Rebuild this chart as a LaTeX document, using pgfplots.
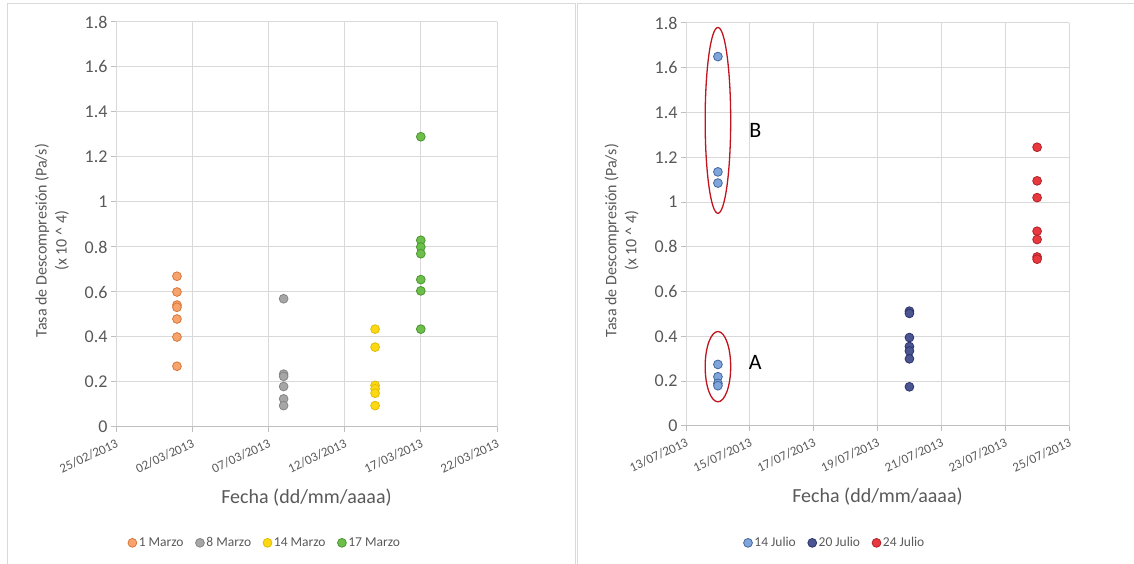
\documentclass[border=0pt]{standalone}
\usepackage{pgfplots}
\pgfplotsset{compat=1.18}
\usepackage{fontspec}
\setmainfont{Carlito}

\definecolor{txt}{HTML}{595959}
\definecolor{gridc}{HTML}{D9D9D9}
\definecolor{axisc}{HTML}{BFBFBF}
\definecolor{cOra}{HTML}{F4A46C}
\definecolor{cOraE}{HTML}{D9773A}
\definecolor{cGry}{HTML}{A6A6A6}
\definecolor{cGryE}{HTML}{858585}
\definecolor{cYel}{HTML}{FFD814}
\definecolor{cYelE}{HTML}{E0BC00}
\definecolor{cGrn}{HTML}{6DBE4B}
\definecolor{cGrnE}{HTML}{4A9630}
\definecolor{cLbl}{HTML}{7FA5DA}
\definecolor{cLblE}{HTML}{41679F}
\definecolor{cDbl}{HTML}{4B5592}
\definecolor{cDblE}{HTML}{2C346A}
\definecolor{cRed}{HTML}{E83A3E}
\definecolor{cRedE}{HTML}{B0212A}
\definecolor{ellc}{HTML}{C0141E}

\pgfplotsset{
  excel/.style={
    scale only axis,
    ymin=0, ymax=1.8, ytick={0,0.2,...,1.8},
    grid=major,
    major grid style={gridc, line width=1pt},
    axis line style={draw=none},
    tick align=outside,
    major tick length=5pt,
    tick style={axisc, line width=1pt},
    xtick pos=bottom, ytick pos=left,
    /pgf/number format/assume math mode=true,
    yticklabel style={font=\fontsize{18}{20}\selectfont, text=txt},
    xticklabel style={font=\fontsize{13}{15}\selectfont, text=txt, rotate=25, anchor=north east, yshift=-2pt},
    xlabel style={font=\fontsize{20}{24}\selectfont, text=txt, at={(axis description cs:0.5,-0.175)}, anchor=center},
    ylabel style={font=\fontsize{16}{20}\selectfont, text=txt, at={(axis description cs:-0.168,0.46)}, anchor=center, align=center},
    xlabel={Fecha (dd/mm/aaaa)},
    ylabel={Tasa de Descompresión (Pa/s)\\(x 10 \string^ 4)},
    legend columns=-1,
    legend style={draw=none, fill=none, font=\fontsize{13.5}{15}\selectfont, text=txt,
      /tikz/every even column/.append style={column sep=10pt}},
    legend image code/.code={\draw[#1] plot coordinates {(0pt,0pt)};},
  },
  dots/.style={only marks, mark=*, mark size=4.4pt, line width=0.8pt},
}

\begin{document}
\begin{tikzpicture}
\clip (0pt,0pt) rectangle (1134pt,564pt);
\draw[gridc, line width=1pt] (7pt,-5pt) rectangle (575pt,560pt);
\draw[gridc, line width=1pt] (577pt,-5pt) rectangle (1140pt,560pt);

\begin{axis}[excel,
  at={(116pt,137pt)}, anchor=south west,
  width=381pt, height=405pt,
  xmin=0, xmax=25, xtick={0,5,10,15,20,25},
  xticklabels={25/02/2013,02/03/2013,07/03/2013,12/03/2013,17/03/2013,22/03/2013},
  legend style={at={(axis description cs:0.391,-0.286)}, anchor=center},
]
\addplot[dots, draw=cOraE, fill=cOra] coordinates {
  (4,0.67) (4,0.60) (4,0.542) (4,0.532) (4,0.48) (4,0.40) (4,0.27)};
\addlegendentry{1 Marzo}
\addplot[dots, draw=cGryE, fill=cGry] coordinates {
  (11,0.57) (11,0.235) (11,0.225) (11,0.18) (11,0.125) (11,0.095)};
\addlegendentry{8 Marzo}
\addplot[dots, draw=cYelE, fill=cYel] coordinates {
  (17,0.435) (17,0.355) (17,0.185) (17,0.17) (17,0.15) (17,0.095)};
\addlegendentry{14 Marzo}
\addplot[dots, draw=cGrnE, fill=cGrn] coordinates {
  (20,1.29) (20,0.83) (20,0.80) (20,0.77) (20,0.655) (20,0.605) (20,0.435)};
\addlegendentry{17 Marzo}
\draw[axisc, line width=1pt] (rel axis cs:0,0) -- (rel axis cs:1,0);
\end{axis}

\begin{axis}[excel,
  at={(686pt,138pt)}, anchor=south west,
  width=383pt, height=403pt,
  xmin=0, xmax=12, xtick={0,2,4,6,8,10,12},
  xticklabels={13/07/2013,15/07/2013,17/07/2013,19/07/2013,21/07/2013,23/07/2013,25/07/2013},
  legend style={at={(axis description cs:0.389,-0.29)}, anchor=center},
]
\addplot[dots, draw=cLblE, fill=cLbl] coordinates {
  (1,1.65) (1,1.135) (1,1.085) (1,0.275) (1,0.22) (1,0.19) (1,0.18)};
\addlegendentry{14 Julio}
\addplot[dots, draw=cDblE, fill=cDbl] coordinates {
  (7,0.513) (7,0.503) (7,0.395) (7,0.355) (7,0.335) (7,0.30) (7,0.175)};
\addlegendentry{20 Julio}
\addplot[dots, draw=cRedE, fill=cRed] coordinates {
  (11,1.245) (11,1.095) (11,1.02) (11,0.87) (11,0.833) (11,0.755) (11,0.745)};
\addlegendentry{24 Julio}
\draw[axisc, line width=1pt] (rel axis cs:0,0) -- (rel axis cs:1,0);
\draw[ellc, line width=1.3pt] (axis cs:1,1.365) ellipse [x radius=0.4, y radius=0.415];
\draw[ellc, line width=1.3pt] (axis cs:1,0.265) ellipse [x radius=0.4, y radius=0.157];
\node[font=\fontsize{22}{24}\selectfont, anchor=center] at (axis cs:2.17,1.32) {B};
\node[font=\fontsize{22}{24}\selectfont, anchor=center] at (axis cs:2.17,0.284) {A};
\end{axis}
\end{tikzpicture}
\end{document}
